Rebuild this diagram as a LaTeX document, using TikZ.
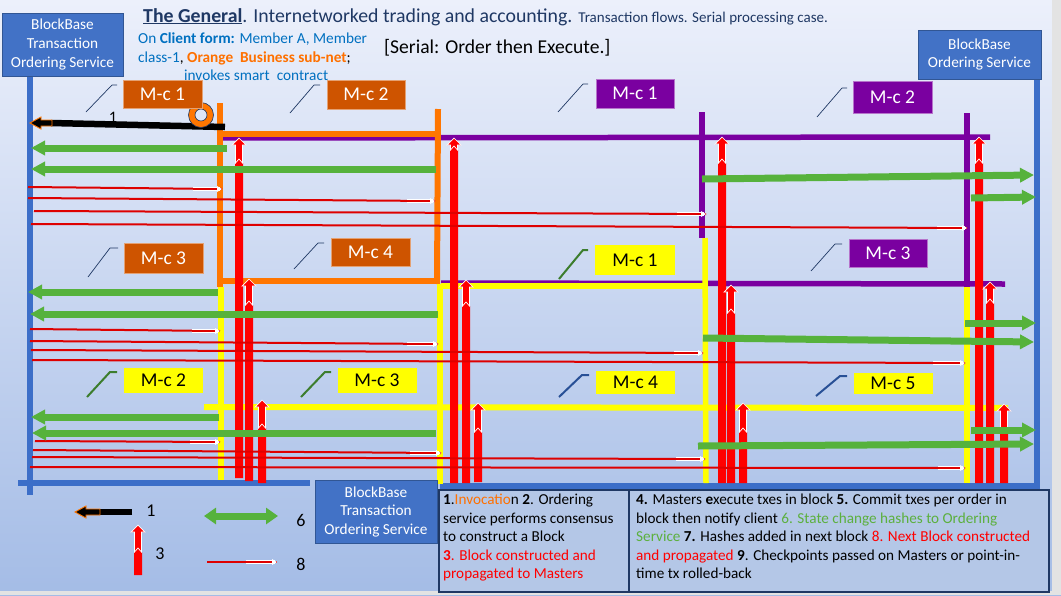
\documentclass[tikz,border=0pt]{standalone}
\usepackage{fontspec}
\setmainfont{Carlito}
\usetikzlibrary{arrows.meta}
\definecolor{bgtop}{RGB}{236,240,251}
\definecolor{bgbot}{RGB}{164,188,230}
\definecolor{bbox}{RGB}{66,114,198}
\definecolor{bline}{RGB}{60,110,200}
\definecolor{orbox}{RGB}{206,84,0}
\definecolor{orline}{RGB}{255,118,0}
\definecolor{purp}{RGB}{122,0,160}
\definecolor{yel}{RGB}{255,255,0}
\definecolor{redc}{RGB}{255,0,0}
\definecolor{thinred}{RGB}{222,0,0}
\definecolor{grn}{RGB}{86,178,60}
\definecolor{navy}{RGB}{31,56,100}
\definecolor{cblue}{RGB}{0,112,192}
\definecolor{corange}{RGB}{255,112,0}
\definecolor{cgreen}{RGB}{92,176,62}
\definecolor{calgreen}{RGB}{60,125,45}
\definecolor{calblue}{RGB}{40,80,150}
\definecolor{tbox}{RGB}{180,199,231}
\newcommand\myfs[2]{\fontsize{#1}{#2}\selectfont}
% red vertical arrow: x, bottom, notch, tip
\newcommand\rup[4]{%
  \fill[redc] ({#1-4},#2) -- ({#1-4},#3) -- (#1,{#3-4}) -- ({#1+4},#3) -- ({#1+4},#2) -- cycle;
  \filldraw[fill=redc,draw=white,line width=0.7pt,line join=miter]
    ({#1-3.5},#3) -- ({#1-3.5},{#4+7}) -- ({#1-7},{#4+7}) -- (#1,#4) -- ({#1+7},{#4+7})
    -- ({#1+3.5},{#4+7}) -- ({#1+3.5},#3) -- (#1,{#3-4}) -- cycle;}
% thin red line: x1 y1 x2 y2 segment-start
\newcommand\rthin[5]{%
  \draw[thinred,line width=2pt] (#1,#2) -- (#3,#4);
  \draw[white,line width=4.4pt] (#5,#4) -- ({#3-2},#4);
  \draw[thinred,line width=2.2pt] (#5,#4) -- ({#3-3},#4);
  \fill[white] ({#3-5},{#4-3}) -- (#3,#4) -- ({#3-5},{#4+3}) -- cycle;}
\begin{document}
\begin{tikzpicture}[x=1pt,y=-1pt,
  mcor/.style={fill=orbox,draw=orbox!55!white,line width=0.6pt,text=white,font=\myfs{19.5}{22},inner sep=0pt},
  mcpu/.style={fill=purp,draw=purp!55!white,line width=0.6pt,text=white,font=\myfs{19.5}{22},inner sep=0pt},
  mcye/.style={fill=yel,draw=none,text=black,font=\myfs{19.5}{22},inner sep=0pt},
  bbx/.style={fill=bbox,draw=bbox!75!black,line width=0.8pt,text=white,align=center,font=\myfs{15.3}{18.5},inner sep=0pt},
  txb/.style={fill=tbox,draw=navy,line width=1.3pt},
  txt/.style={anchor=north west,align=left,inner sep=0pt,font=\myfs{15.2}{18.5}},
  frame/.style={line width=5.5pt},
  grarrow/.style={grn,line width=7pt,-{Triangle[width=14pt,length=14pt]}},
  calthin/.style={navy,line width=0.7pt},
  calg/.style={calgreen,line width=2pt},
  calb/.style={calblue,line width=2pt},
  lbl/.style={font=\myfs{18}{20},inner sep=0pt}]
\useasboundingbox (0,0) rectangle (1061,595);
\shade[top color=bgtop,bottom color=bgbot] (0,0) rectangle (1061,595);
\fill[gray!22] (1052,0) rectangle (1061,595);
\fill[gray!22] (0,591) rectangle (1061,595);

% ---- blue service lines
\draw[bline,line width=6.5pt] (30,76) -- (30,495);
\draw[bline,line width=6.5pt] (1037,79) -- (1037,489);
\draw[bline,line width=6pt] (18,483) -- (310,483);
\draw[bline,line width=6pt] (440,486) -- (1040,486);

% ---- purple frame
\draw[purp,frame] (219,138) -- (990,137);
\draw[purp,frame] (702,112) -- (702,238);
\draw[purp,frame] (967,113) -- (967,287);
\draw[purp,frame] (441,283) -- (1005,284);
% ---- orange frame
\draw[orline,line width=6pt] (218,134) -- (437,134);
\draw[orline,line width=6pt] (220,103) -- (220,287);
\draw[orline,line width=6pt] (438,109) -- (437,284);
\draw[orline,line width=6pt] (220,281) -- (437,281);
% ---- yellow frame
\draw[yel,frame] (221,287) -- (221,480);
\draw[yel,frame] (440,284) -- (440,484);
\draw[yel,line width=6pt] (441,286) -- (705,286);
\draw[yel,frame] (705,238) -- (706,483);
\draw[yel,frame] (967,287) -- (967,483);
\draw[yel,line width=6pt] (204,407) -- (1008,408);

% ---- red block arrows (3)
\rup{239}{478}{163}{138}
\rup{249}{481}{305}{279}
\rup{262}{483}{428}{400}
\rup{454}{483}{150}{138}
\rup{466}{483}{306}{280}
\rup{478}{482}{432}{403}
\rup{722}{483}{163}{137}
\rup{731}{483}{313}{285}
\rup{743}{483}{432}{403}
\rup{979}{483}{163}{137}
\rup{990}{483}{303}{282}
\rup{1004}{483}{432}{404}

% ---- thin red lines (8)
\rthin{28}{187}{222}{189}{193}
\rthin{28}{198}{435}{201}{407}
\rthin{34}{211}{706}{214}{677}
\rthin{31}{224}{967}{228}{937}
\rthin{30}{329}{220}{331}{192}
\rthin{30}{341}{438}{344}{407}
\rthin{31}{350}{703}{353}{674}
\rthin{32}{360}{965}{363}{933}
\rthin{35}{441}{220}{442}{190}
\rthin{33}{450}{441}{453}{410}
\rthin{32}{457}{705}{459}{676}
\rthin{30}{467}{965}{468}{938}

% ---- green arrows (6)
\draw[grarrow] (227,148) -- (31,148);
\draw[grarrow] (436,169) -- (31,169);
\draw[grarrow] (218,292) -- (28,292);
\draw[grarrow] (438,314) -- (30,314);
\draw[grarrow] (219,417) -- (31,417);
\draw[grarrow] (436,433) -- (32,433);
\draw[grarrow] (702,179) -- (1034,175);
\draw[grarrow] (971,198) -- (1036,197);
\draw[grarrow] (965,323) -- (1036,323);
\draw[grarrow] (703,338) -- (1034,342);
\draw[grarrow] (971,430) -- (1036,430);
\draw[grarrow] (698,446) -- (1034,444);

% ---- invocation arrow (1)
\draw[black,line width=6.5pt] (225,127) -- (51,123);
\filldraw[fill=black,draw=orline,line width=0.9pt] (52,120) -- (41,120) -- (41,117) -- (30,123) -- (41,129) -- (41,126) -- (52,126) -- cycle;
\node[lbl,font=\myfs{16}{18}] (one) at (113,117) {1};
\draw[navy,line width=0.6pt,fill=orline,even odd rule] (201,115) circle (12.5) (201,115) circle (6);

% ---- callout strokes
\draw[calthin] (86,112) -- (112,85) -- (117,85);
\draw[calthin] (290,113) -- (314,85) -- (320,85);
\draw[calthin] (558,112) -- (583,84) -- (588,84);
\draw[calthin] (817,117) -- (842,88) -- (847,88);
\draw[calthin] (88,277) -- (110,248) -- (118,248);
\draw[calthin] (294,269) -- (318,243) -- (324,243);
\draw[calg] (559,279) -- (583,250) -- (588,250);
\draw[calthin] (811,271) -- (835,244) -- (842,244);
\draw[calg] (87,397) -- (110,372) -- (117,372);
\draw[calg] (301,397) -- (325,372) -- (331,372);
\draw[calb] (559,397) -- (582,375) -- (589,375);
\draw[calb] (816,396) -- (840,376) -- (847,376);

% ---- M-c labels
\node[mcor,minimum width=79pt,minimum height=28pt] (o1) at (162.5,94) {M-c 1};
\node[mcor,minimum width=78pt,minimum height=29pt] (o2) at (366,94.5) {M-c 2};
\node[mcpu,minimum width=78pt,minimum height=29pt] (p1) at (635,93.5) {M-c 1};
\node[mcpu,minimum width=79pt,minimum height=32pt] (p2) at (892.5,97) {M-c 2};
\node[mcor,minimum width=79pt,minimum height=30pt] (o3) at (163.5,258) {M-c 3};
\node[mcor,minimum width=79pt,minimum height=28pt] (o4) at (370.5,252) {M-c 4};
\node[mcye,minimum width=80pt,minimum height=30pt] (y1) at (635,260) {M-c 1};
\node[mcpu,minimum width=78pt,minimum height=28pt] (p3) at (888,253) {M-c 3};
\node[mcye,minimum width=79pt,minimum height=25pt] (y2) at (163.5,380.5) {M-c 2};
\node[mcye,minimum width=79pt,minimum height=25pt] (y3) at (377,380.5) {M-c 3};
\node[mcye,minimum width=79pt,minimum height=23pt] (y4) at (635.5,382.5) {M-c 4};
\node[mcye,minimum width=79pt,minimum height=21pt] (y5) at (893,383.5) {M-c 5};

% ---- service boxes
\node[bbx,minimum width=121pt,minimum height=63pt] (tos1) at (62.5,44.5) {BlockBase\\Transaction\\Ordering Service};
\node[bbx,minimum width=123pt,minimum height=49pt] (os) at (979.5,54.5) {BlockBase\\Ordering Service};
\node[bbx,minimum width=122pt,minimum height=63pt] (tos2) at (376,511.5) {BlockBase\\Transaction\\Ordering Service};

% ---- titles
\node[anchor=base west,inner sep=0pt,text=navy] (title) at (143,22)
  {\myfs{19.8}{22}\textbf{\underline{The General}}. Internetworked trading and accounting. {\myfs{15}{17}Transaction flows. Serial processing case.}};
\node[anchor=base west,inner sep=0pt,text=cblue,font=\myfs{15.3}{18}] (cl1) at (138,43) {On \textbf{Client form:} Member A, Member};
\node[anchor=base west,inner sep=0pt,text=cblue,font=\myfs{15.3}{18}] (cl2) at (138,62) {class-1{\color{black},} \textbf{\color{corange}Orange\ \ Business sub-net}{\color{black};}};
\node[anchor=base west,inner sep=0pt,text=cblue,font=\myfs{15.3}{18}] (cl3) at (184,80) {invokes smart\ \ contract};
\node[anchor=base west,inner sep=0pt,text=black,font=\myfs{19.6}{22}] (serial) at (384,53) {[Serial: Order then Execute.]};

% ---- legend
\draw[black,line width=6pt] (132,512) -- (99,512);
\filldraw[fill=black,draw=orline,line width=0.9pt] (100,509) -- (86,509) -- (86,506) -- (75,512) -- (86,518) -- (86,515) -- (100,515) -- cycle;
\node[lbl] (l1) at (151,511) {1};
\rup{138}{575}{552}{525}
\node[lbl] (l3) at (160,554) {3};
\draw[grn,line width=7pt,{Triangle[width=16pt,length=12pt]}-{Triangle[width=16pt,length=12pt]}] (204,516) -- (278,516);
\node[lbl] (l6) at (301,520) {6};
\rthin{207}{562}{277}{562}{246}
\node[lbl] (l8) at (301,564) {8};

% ---- explanation boxes
\draw[txb] (439,490) rectangle (629,592);
\draw[txb] (629,490) rectangle (1049,592);
\node[txt] (t1) at (443,494) {\textbf{1}.{\color{corange}Invocatio}n \textbf{2}. Ordering\\
service performs consensus\\
to construct a Block\\
{\color{redc}\textbf{3}. Block constructed and}\\
{\color{redc}propagated to Masters}};
\node[txt] (t2) at (636,494) {\textbf{4.} Masters \textbf{e}xecute txes in block \textbf{5.} Commit txes per order in\\
block then notify client {\color{cgreen}6. State change hashes to Ordering}\\
{\color{cgreen}Service} \textbf{7.} Hashes added in next block {\color{redc}8. Next Block constructed}\\
{\color{redc}and propagated} \textbf{9}. Checkpoints passed on Masters or point-in-\\
time tx rolled-back};
\end{tikzpicture}
\end{document}
